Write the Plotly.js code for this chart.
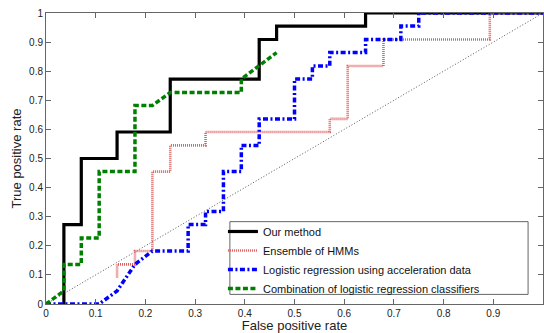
<!DOCTYPE html>
<html>
<head>
<meta charset="utf-8">
<script src="https://cdn.plot.ly/plotly-3.0.1.min.js"></script>
<style>html,body{margin:0;padding:0;background:#fff;}#chart{width:544px;height:333px;}</style>
</head>
<body>
<div id="chart"></div>
<script>
// Series names
const seriesNames = [
  "Our method",
  "Ensemble of HMMs",
  "Logistic regression using acceleration data",
  "Combination of logistic regression classifiers"
];

// Our method (false positive rate / true positive rate)
const ourFPR = [0.036,0.036,0.071,0.071,0.143,0.143,0.25,0.25,0.429,0.429,0.464,0.464,0.643,0.643,1];
const ourTPR = [0,0.273,0.273,0.5,0.5,0.591,0.591,0.773,0.773,0.909,0.909,0.955,0.955,1,1];

// Ensemble of HMMs
const hmmFPR = [0.143,0.143,0.179,0.179,0.214,0.214,0.25,0.25,0.321,0.321,0.571,0.571,0.607,0.607,0.679,0.679,0.893,0.893,1];
const hmmTPR = [0.091,0.136,0.136,0.182,0.182,0.455,0.455,0.545,0.545,0.591,0.591,0.636,0.636,0.818,0.818,0.909,0.909,1,1];

// Logistic regression using acceleration data
const accFPR = [0,0.107,0.143,0.179,0.214,0.286,0.286,0.321,0.321,0.357,0.357,0.393,0.393,0.429,0.429,0.5,0.5,0.536,0.536,0.571,0.571,0.643,0.643,0.714,0.714,0.75,0.75,1];
const accTPR = [0,0,0.045,0.136,0.182,0.182,0.273,0.273,0.318,0.318,0.455,0.455,0.545,0.545,0.636,0.636,0.773,0.773,0.818,0.818,0.864,0.864,0.909,0.909,0.955,0.955,1,1];

// Combination of logistic regression classifiers
const combFPR = [0,0.036,0.036,0.071,0.071,0.107,0.107,0.179,0.179,0.214,0.25,0.393,0.393,0.464];
const combTPR = [0,0.045,0.136,0.136,0.227,0.227,0.455,0.455,0.682,0.682,0.727,0.727,0.773,0.864];

// Chance diagonal
const chanceX = [0,1];
const chanceY = [0,1];

const tickVals = [0,0.1,0.2,0.3,0.4,0.5,0.6,0.7,0.8,0.9,1];
const tickText = ["0","0.1","0.2","0.3","0.4","0.5","0.6","0.7","0.8","0.9","1"];

const FONT = "Liberation Sans, Arial, Helvetica, sans-serif";

const traces = [
  {x: chanceX, y: chanceY, mode: "lines", showlegend: false, hoverinfo: "skip",
   line: {color: "#555", width: 1, dash: "1px,2px"}},
  {x: ourFPR, y: ourTPR, mode: "lines", name: seriesNames[0],
   line: {color: "#000", width: 3.2}},
  {x: hmmFPR, y: hmmTPR, mode: "lines", name: seriesNames[1],
   line: {color: "rgb(225,95,95)", width: 2.6, dash: "1px,1px"}},
  {x: accFPR, y: accTPR, mode: "lines", name: seriesNames[2],
   line: {color: "rgb(0,0,255)", width: 3.5, dash: "5px,2.5px,2px,2.5px"}},
  {x: combFPR, y: combTPR, mode: "lines", name: seriesNames[3],
   line: {color: "rgb(0,128,0)", width: 3.5, dash: "5px,2.5px"}}
];

const axisCommon = {
  range: [0,1], tickvals: tickVals, ticktext: tickText,
  ticks: "inside", ticklen: 5, tickwidth: 1, tickcolor: "#666",
  showline: true, linecolor: "#666", linewidth: 1, mirror: "ticks",
  showgrid: false, zeroline: false, fixedrange: true,
  tickfont: {family: FONT, size: 10, color: "#222"}
};

const layout = {
  width: 544, height: 333,
  margin: {l: 46, r: 1, t: 13, b: 29, pad: 0},
  paper_bgcolor: "#fff", plot_bgcolor: "#fff",
  font: {family: FONT, color: "#222"},
  xaxis: Object.assign({}, axisCommon, {
    ticklabelstandoff: 0,
    title: {text: "False positive rate", font: {family: FONT, size: 13, color: "#222"}, standoff: 3}
  }),
  yaxis: Object.assign({}, axisCommon, {
    title: {text: "True positive rate", font: {family: FONT, size: 13, color: "#222"}, standoff: 4}
  }),
  showlegend: true,
  legend: {
    x: 0.356, y: 0.299, xanchor: "left", yanchor: "top",
    bgcolor: "rgba(0,0,0,0)", borderwidth: 0,
    font: {family: FONT, size: 11, color: "#111"}
  },
  shapes: [{
    type: "rect", xref: "paper", yref: "paper",
    x0: 0.370, x1: 0.970, y0: 0.033, y1: 0.283,
    line: {color: "#666", width: 1}, fillcolor: "#fff", layer: "above"
  }]
};

Plotly.newPlot("chart", traces, layout, {displayModeBar: false, staticPlot: true});
</script>
</body>
</html>
